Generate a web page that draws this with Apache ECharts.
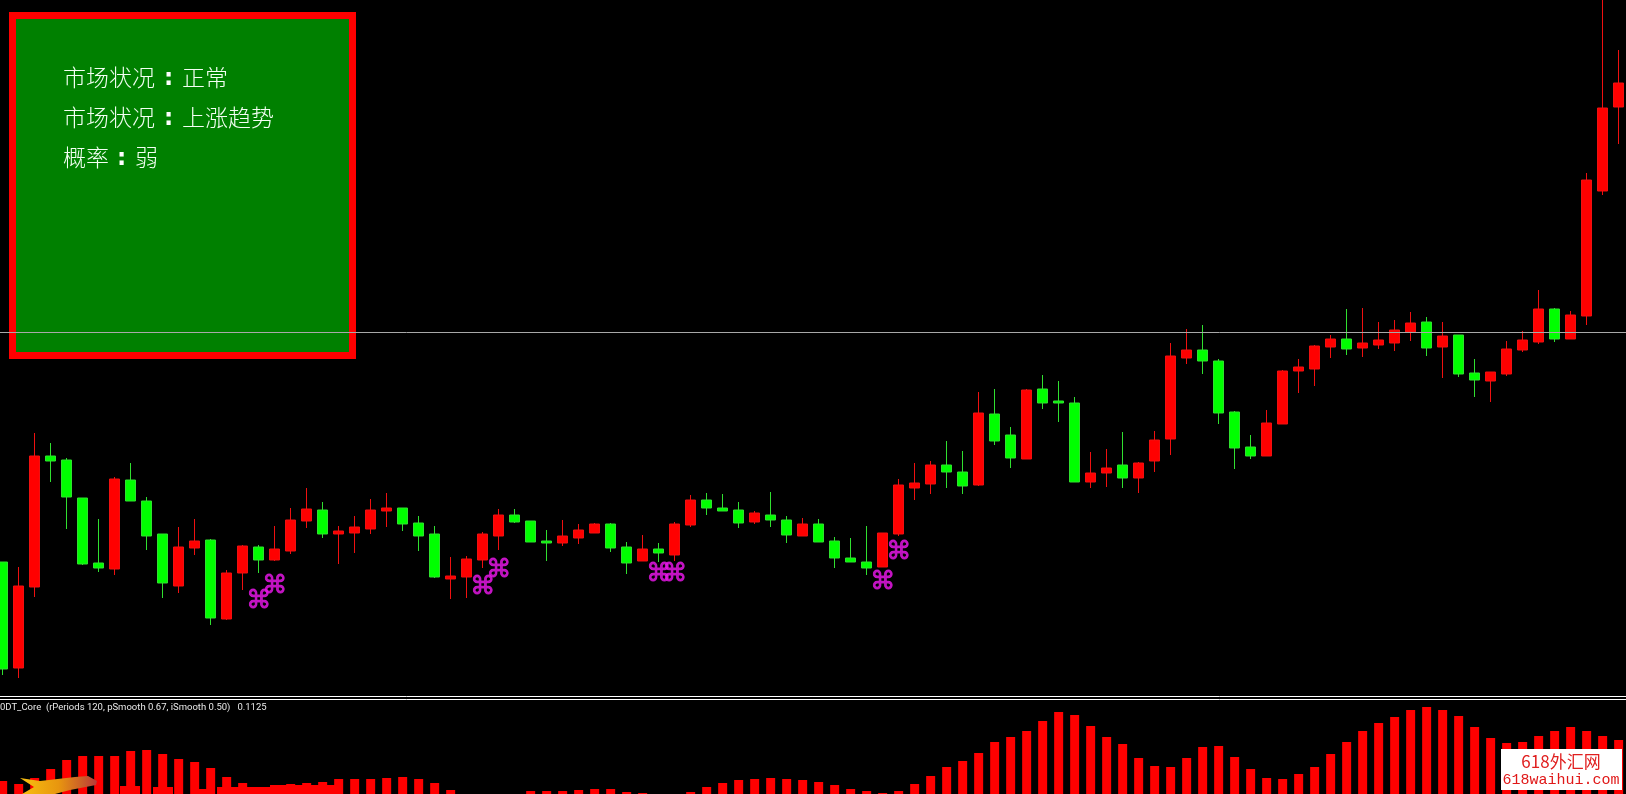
<!DOCTYPE html>
<html>
<head>
<meta charset="utf-8">
<style>html,body{margin:0;padding:0;background:#000}#main{width:1626px;height:794px}</style>
<script src="https://cdn.jsdelivr.net/npm/echarts@6/dist/echarts.min.js"></script>
</head>
<body>
<div id="main"></div>
<script>
// prices are in chart points
var opens = [232,126,207,338,334,296,231,225,314,293,260,208,246,254,175,221,247,234,243,273,284,260,261,265,283,286,271,260,215,217,234,258,279,273,253,251,256,261,270,247,233,245,239,269,294,286,284,272,279,274,258,270,253,236,232,227,260,306,310,329,322,309,380,359,335,405,393,391,312,321,329,316,333,355,436,444,433,382,347,338,370,423,425,447,455,446,449,451,462,472,447,459,421,413,420,444,452,485,455,478,603,687];
var closes = [125,208,338,333,297,230,226,315,293,258,211,247,253,176,221,248,234,245,274,285,260,263,267,284,286,270,258,217,218,235,260,279,272,252,251,258,264,270,246,231,245,241,270,294,286,283,271,281,274,259,270,252,236,232,226,261,309,311,329,322,308,381,353,336,404,391,391,312,321,326,316,331,354,438,444,433,381,346,338,371,423,427,448,455,445,451,454,464,471,446,458,420,414,422,445,454,485,455,479,614,686,711];
var lows = [119,116,197,312,265,229,222,219,293,244,196,201,239,169,174,204,221,233,240,266,256,230,241,260,267,263,243,216,195,196,226,244,271,252,233,248,250,261,242,220,233,232,233,267,279,283,266,270,267,251,258,252,226,232,219,227,258,294,300,306,300,308,349,326,335,385,372,312,306,307,306,301,322,339,430,420,370,325,335,338,370,401,408,436,439,437,445,443,453,438,416,417,397,392,418,442,450,452,455,469,599,650];
var highs = [232,227,361,351,336,296,275,317,331,297,260,267,275,255,224,249,249,268,286,306,292,268,278,295,301,286,278,268,237,238,262,285,285,273,264,274,270,271,271,252,259,251,272,299,301,300,292,283,302,278,276,275,257,256,268,261,315,331,333,353,343,402,405,367,405,419,413,397,342,345,362,332,363,451,465,469,435,383,359,384,424,435,449,459,485,486,472,474,482,477,472,459,435,422,453,463,504,486,483,621,800,744];

var coreValues = [13,10,16,25,34,38,38,38,43,44,40,35,32,26,17,11,7,9,10,11,12,15,15,15,16,17,15,11,4,0,0,0,0,3,3,3,4,5,5,2,1,0,0,2,7,11,14,15,16,15,14,12,9,5,3,1,3,10,18,27,33,41,52,57,63,73,82,79,68,57,50,36,28,27,36,47,48,37,25,16,15,20,27,40,52,63,71,77,84,87,84,78,67,56,51,52,58,63,67,63,58,54];

var signalIndex = [16,17,30,31,41,42,55,56];
var signalPrice = [196,211,210,227,223,223,215,245];

var currentPrice = 462;

var statusLabels = ['市场状况','市场状况','概率'];
var statusValues = ['正常','上涨趋势','弱'];
var indicatorTitle = '0DT_Core  (rPeriods 120, pSmooth 0.67, iSmooth 0.50)   0.1125';

var chart = echarts.init(document.getElementById('main'));

var candles = opens.map(function(v, i) { return [i, v, closes[i], lows[i], highs[i]]; });
var coreBars = coreValues.map(function(v, i) { return [i, v]; });
var signals = signalIndex.map(function(v, i) { return [v, signalPrice[i]]; });

var cjk = '"Noto Sans CJK SC"';
var statusGraphics = [];
statusLabels.forEach(function(label, i) {
    var y = 77 + i * 40;
    var labelWidth = label.length * 23.5;
    statusGraphics.push({type: 'text', z: 1, x: 63, y: y, style: {text: label, fill: '#f4fff4', font: '300 23px ' + cjk, textVerticalAlign: 'middle'}});
    statusGraphics.push({type: 'text', z: 1, x: 63 + labelWidth + 7, y: y + 2, style: {text: ':', fill: '#fff', font: 'bold 23px "DejaVu Sans"', textVerticalAlign: 'middle'}});
    statusGraphics.push({type: 'text', z: 1, x: 63 + labelWidth + 25, y: y, style: {text: statusValues[i], fill: '#f4fff4', font: '300 23px ' + cjk, textVerticalAlign: 'middle'}});
});

// bars sit 16px apart, the first one 2.67px from the left edge
var xMin = -0.167;
var xMax = 101.46;

function timeAxis(gridIndex, position) {
    return {type: 'value', gridIndex: gridIndex, position: position, min: xMin, max: xMax, axisTick: {show: false}, axisLabel: {show: false}, splitLine: {show: false},
        axisLine: {show: true, onZero: false, lineStyle: {color: '#fff', width: 1}}};
}

var option = {
    backgroundColor: '#000',
    animation: false,
    grid: [
        {left: 0, right: 0, top: 0, height: 696},
        {left: 0, right: 0, top: 699, height: 95}
    ],
    xAxis: [timeAxis(0, 'bottom'), timeAxis(1, 'top')],
    yAxis: [
        {type: 'value', gridIndex: 0, min: 98, max: 794, show: false, splitLine: {show: false}},
        {type: 'value', gridIndex: 1, min: 0, max: 95, show: false, splitLine: {show: false}}
    ],
    graphic: statusGraphics.concat([
        {type: 'rect', z: -1, shape: {x: 12.5, y: 15.5, width: 340, height: 340}, style: {fill: '#008000', stroke: '#ff0000', lineWidth: 7}},
        {type: 'text', z: 5, x: 0, y: 708, style: {text: indicatorTitle, fill: '#e8e8e8', font: '9.5px Roboto', textVerticalAlign: 'middle'}},
        // site logo over the lower left of the indicator
        {type: 'polygon', z: 5, shape: {points: [[20,778],[40,781],[75,777],[88,776],[97,781],[96,785],[70,790],[55,794],[22,794],[34,787]]},
            style: {fill: new echarts.graphic.LinearGradient(0, 0, 1, 0, [{offset: 0, color: '#f8c010'}, {offset: 0.5, color: '#e8960f'}, {offset: 1, color: '#b83a3a'}])}},
        {type: 'rect', z: 5, shape: {x: 120, y: 786, width: 20, height: 8}, style: {fill: '#ff0000'}},
        {type: 'rect', z: 5, shape: {x: 153, y: 787, width: 20, height: 7}, style: {fill: '#ff0000'}},
        {type: 'rect', z: 5, shape: {x: 197, y: 789, width: 10, height: 5}, style: {fill: '#ff0000'}},
        {type: 'rect', z: 5, shape: {x: 217, y: 787, width: 60, height: 7}, style: {fill: '#ff0000'}},
        {type: 'rect', z: 5, shape: {x: 270, y: 785, width: 67, height: 9}, style: {fill: '#ff0000'}},
        // site stamp
        {type: 'rect', z: 6, shape: {x: 1501, y: 749, width: 121, height: 41}, style: {fill: '#fff'}},
        {type: 'text', z: 7, x: 1561, y: 762, style: {text: '618外汇网', fill: '#e02020', font: '17px ' + cjk, textAlign: 'center', textVerticalAlign: 'middle'}},
        {type: 'text', z: 7, x: 1561, y: 780, style: {text: '618waihui.com', fill: '#e01818', font: '15px "Liberation Mono"', textAlign: 'center', textVerticalAlign: 'middle'}}
    ]),
    series: [
        {
            name: 'price',
            type: 'candlestick',
            xAxisIndex: 0,
            yAxisIndex: 0,
            barWidth: 11,
            data: candles,
            encode: {x: 0, y: [1, 2, 3, 4]},
            itemStyle: {color: '#ff0000', borderColor: '#f01010', color0: '#00ff00', borderColor0: '#30e030', borderWidth: 1},
            markLine: {
                silent: true,
                symbol: 'none',
                label: {show: false},
                lineStyle: {color: '#a8a8a8', width: 1, type: 'solid'},
                data: [{yAxis: currentPrice}]
            }
        },
        {
            name: 'signal',
            type: 'scatter',
            xAxisIndex: 0,
            yAxisIndex: 0,
            data: signals,
            symbolSize: 20,
            itemStyle: {color: 'transparent'},
            label: {show: true, position: 'inside', offset: [0, 3], formatter: '⌘', fontFamily: 'DejaVu Sans', fontSize: 25, color: '#e818e8', textBorderColor: '#e818e8', textBorderWidth: 0.8},
            z: 4
        },
        {
            name: 'core',
            type: 'bar',
            xAxisIndex: 1,
            yAxisIndex: 1,
            barWidth: 9,
            data: coreBars,
            itemStyle: {color: '#ff0000'}
        }
    ]
};
chart.setOption(option);
</script>
</body>
</html>
